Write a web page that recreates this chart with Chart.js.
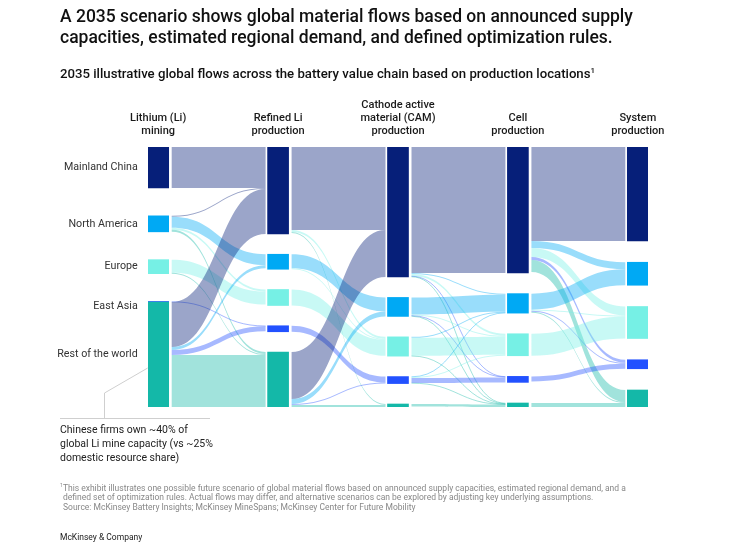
<!DOCTYPE html>
<html>
<head>
<meta charset="utf-8">
<script src="https://cdn.jsdelivr.net/npm/chart.js@4.4.1/dist/chart.umd.min.js"></script>
<style>
  body { margin: 0; background: #fff; font-family: Roboto, 'Liberation Sans', sans-serif; color: #1a1a1a; }
  #wrap { position: relative; width: 751px; height: 547px; overflow: hidden; }
  #chart { position: absolute; left: 0; top: 0; }
  .title { position: absolute; left: 60px; top: 6px; font-size: 17.5px; font-weight: 500; line-height: 21px; color: #111; }
  .subtitle { position: absolute; left: 60px; top: 66px; font-size: 13.2px; font-weight: 500; color: #111; }
  .note { position: absolute; left: 60px; top: 423px; font-size: 10.5px; line-height: 14px; color: #222; }
  .foot { position: absolute; left: 60px; top: 481px; font-size: 8.5px; line-height: 9.6px; color: #888; }
  .foot p { margin: 0; padding-left: 3px; }
  .brand { position: absolute; left: 60px; top: 532px; font-size: 8.5px; color: #222; }
  sup { font-size: 0.6em; }
</style>
</head>
<body>
<div id="wrap">
  <canvas id="chart" width="751" height="547"></canvas>
  <div class="title">A 2035 scenario shows global material flows based on announced supply<br>capacities, estimated regional demand, and defined optimization rules.</div>
  <div class="subtitle">2035 illustrative global flows across the battery value chain based on production locations<sup>1</sup></div>
  <div class="note">Chinese firms own ~40% of<br>global Li mine capacity (vs ~25%<br>domestic resource share)</div>
  <div class="foot">
    <p style="text-indent:-3px"><sup>1</sup>This exhibit illustrates one possible future scenario of global material flows based on announced supply capacities, estimated regional demand, and a</p>
    <p>defined set of optimization rules. Actual flows may differ, and alternative scenarios can be explored by adjusting key underlying assumptions.</p>
    <p>Source: McKinsey Battery Insights; McKinsey MineSpans; McKinsey Center for Future Mobility</p>
  </div>
  <div class="brand">McKinsey &amp; Company</div>
</div>
<script>
// regions (rows) and value-chain stages (columns)
const regions = ['Mainland China', 'North America', 'Europe', 'East Asia', 'Rest of the world'];
const stages = [
  ['Lithium (Li)', 'mining'],
  ['Refined Li', 'production'],
  ['Cathode active', 'material (CAM)', 'production'],
  ['Cell', 'production'],
  ['System', 'production'],
];
const regionColors = ['#061F79', '#00A9F4', '#76F0E5', '#2251FF', '#14B8A8'];

// flows between stages: row = source region, col = target region
const miningToRefined = [
  [41, 0, 0, 0, 0],
  [1, 11, 2, 0, 2],
  [0, 0, 13, 0, 1],
  [0, 0, 0, 0.5, 0],
  [45, 3, 0, 5, 52],
];
const refinedToCam = [
  [83, 0, 2, 0, 1],
  [0, 14, 1, 0, 0],
  [0, 0, 16, 0, 0],
  [0, 0, 0, 6, 0],
  [47, 5, 0, 1, 2],
];
const camToCell = [
  [126, 1, 2, 0.5, 0.5],
  [0, 17, 1, 0.5, 0.5],
  [0, 1, 18, 0, 0.3],
  [0, 0.5, 1, 5, 0.2],
  [0, 0, 0, 0, 2.5],
];
const cellToSystem = [
  [94, 7, 9, 3, 12],
  [0, 16, 1, 1, 1],
  [0, 0, 22, 0, 0],
  [0, 0, 0, 5, 0],
  [0, 0, 0, 0, 4],
];
const stageFlows = [miningToRefined, refinedToCam, camToCell, cellToSystem];

// ---- layout (in value units, y axis is 1 unit per px) ----
const yMax = 260;
const nodeWidth = 21;

let nodes = [];   // nodes[col][row]
for (let c = 0; c < stages.length; c++) {
  let col = [];
  for (let r = 0; r < regions.length; r++) {
    let inSum = 0, outSum = 0;
    if (c > 0) stageFlows[c - 1].forEach(row => { inSum += row[r]; });
    if (c < stageFlows.length) stageFlows[c][r].forEach(v => { outSum += v; });
    col.push({ value: Math.max(inSum, outSum), outOff: 0, inOff: 0 });
  }
  let total = col.reduce((a, n) => a + n.value, 0);
  let big = col.filter(n => n.value >= 1).length;
  let gap = (yMax - total) / (big - 1);
  let y = 0;
  col.forEach(n => {
    n.y0 = y;
    n.y1 = y + n.value;
    y = n.y1 + (n.value >= 1 ? gap : 0);   // tiny nodes take no gap
  });
  nodes.push(col);
}

let links = [];
stageFlows.forEach((m, c) => {
  let byKey = {};
  // outgoing offsets ordered by target
  for (let s = 0; s < regions.length; s++) {
    for (let t = 0; t < regions.length; t++) {
      let v = m[s][t];
      if (!v) continue;
      let src = nodes[c][s];
      let l = { col: c, target: t, value: v, sy: src.y0 + src.outOff };
      src.outOff += v;
      byKey[s + '-' + t] = l;
      links.push(l);
    }
  }
  // incoming offsets ordered by source
  for (let t = 0; t < regions.length; t++) {
    for (let s = 0; s < regions.length; s++) {
      let l = byKey[s + '-' + t];
      if (!l) continue;
      let tgt = nodes[c + 1][t];
      l.ty = tgt.y0 + tgt.inOff;
      tgt.inOff += l.value;
    }
  }
});

function alpha(hex, a) {
  let n = parseInt(hex.slice(1), 16);
  return 'rgba(' + (n >> 16) + ',' + ((n >> 8) & 255) + ',' + (n & 255) + ',' + a + ')';
}

const sankeyFlows = {
  id: 'sankeyFlows',
  beforeDatasetsDraw(chart) {
    const { ctx, scales: { x, y } } = chart;
    ctx.save();
    links.forEach(l => {
      const xs = x.getPixelForValue(l.col) + nodeWidth / 2 + 3;
      const xt = x.getPixelForValue(l.col + 1) - nodeWidth / 2 - 2;
      const xm = (xs + xt) / 2;
      const s0 = y.getPixelForValue(l.sy), s1 = y.getPixelForValue(l.sy + l.value);
      const t0 = y.getPixelForValue(l.ty), t1 = y.getPixelForValue(l.ty + l.value);
      const color = alpha(regionColors[l.target], 0.4);
      if (l.value < 1) {
        ctx.beginPath();
        ctx.moveTo(xs, (s0 + s1) / 2);
        ctx.bezierCurveTo(xm, (s0 + s1) / 2, xm, (t0 + t1) / 2, xt, (t0 + t1) / 2);
        ctx.strokeStyle = color;
        ctx.lineWidth = 1;
        ctx.stroke();
        return;
      }
      ctx.beginPath();
      ctx.moveTo(xs, s0);
      ctx.bezierCurveTo(xm, s0, xm, t0, xt, t0);
      ctx.lineTo(xt, t1);
      ctx.bezierCurveTo(xm, t1, xm, s1, xs, s1);
      ctx.closePath();
      ctx.fillStyle = color;
      ctx.fill();
    });
    ctx.restore();
  },
  afterDraw(chart) {
    const { ctx, scales: { x, y } } = chart;
    ctx.save();
    // column headers
    ctx.font = '500 11px Roboto, sans-serif';
    ctx.fillStyle = '#1a1a1a';
    ctx.textAlign = 'center';
    ctx.textBaseline = 'middle';
    stages.forEach((lines, c) => {
      const cx = x.getPixelForValue(c);
      lines.forEach((t, i) => {
        ctx.fillText(t, cx, chart.chartArea.top - 16 - (lines.length - 1 - i) * 13);
      });
    });
    // region labels next to the first column
    ctx.font = '400 10.7px Roboto, sans-serif';
    ctx.fillStyle = '#333';
    ctx.textAlign = 'right';
    const left = x.getPixelForValue(0) - nodeWidth / 2;
    nodes[0].forEach((n, r) => {
      const cy = y.getPixelForValue((n.y0 + n.y1) / 2) + (n.value < 1 ? 5 : 0);
      ctx.fillText(regions[r], left - 10, cy);
    });
    // leader line for the note
    const row = nodes[0][4];
    const ly = y.getPixelForValue(row.y0 + 66);
    ctx.strokeStyle = '#cfcfcf';
    ctx.lineWidth = 1;
    ctx.beginPath();
    ctx.moveTo(left, ly);
    ctx.lineTo(104.5, ly + 25);
    ctx.lineTo(104.5, 418.5);
    ctx.moveTo(60, 418.5);
    ctx.lineTo(210, 418.5);
    ctx.stroke();
    ctx.restore();
  }
};

// floating bars for the nodes
let nodeData = [], nodeColors = [];
nodes.forEach((col, c) => col.forEach((n, r) => {
  nodeData.push({ x: c, y: [n.y0, n.y1] });
  nodeColors.push(regionColors[r]);
}));

new Chart(document.getElementById('chart'), {
  type: 'bar',
  data: {
    datasets: [{
      data: nodeData,
      backgroundColor: nodeColors,
      borderWidth: 0,
      barThickness: nodeWidth,
    }],
  },
  options: {
    responsive: false,
    animation: false,
    layout: { padding: { left: 148, right: 103, top: 147, bottom: 140 } },
    scales: {
      x: { type: 'linear', display: false, min: -0.085, max: 4.085, offset: false },
      y: { display: false, min: 0, max: yMax, reverse: true },
    },
    plugins: { legend: { display: false }, tooltip: { enabled: false } },
  },
  plugins: [sankeyFlows],
});
</script>
</body>
</html>
